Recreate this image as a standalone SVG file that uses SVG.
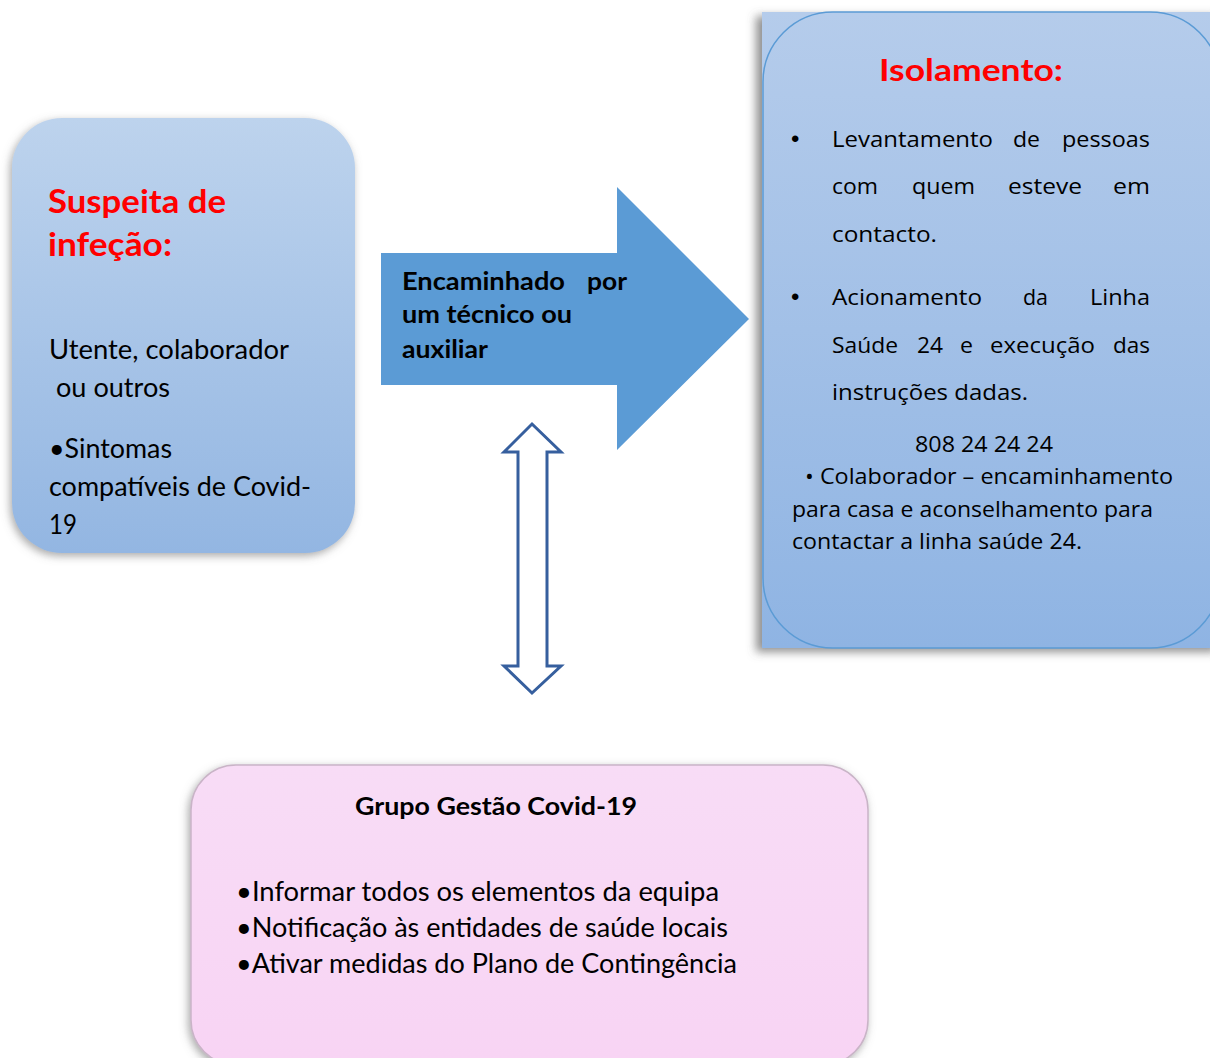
<svg xmlns="http://www.w3.org/2000/svg" width="1210" height="1058" viewBox="0 0 1210 1058">
<defs>
<linearGradient id="gBlue" x1="0" y1="0" x2="0" y2="1">
<stop offset="0" stop-color="#bdd3ed"/>
<stop offset="1" stop-color="#93b6e2"/>
</linearGradient>
<linearGradient id="gBlue2" x1="0" y1="0" x2="0" y2="1">
<stop offset="0" stop-color="#b5cceb"/>
<stop offset="1" stop-color="#8fb4e3"/>
</linearGradient>
<linearGradient id="gPink" x1="0" y1="0" x2="0" y2="1">
<stop offset="0" stop-color="#f8dcf6"/>
<stop offset="1" stop-color="#f8d4f4"/>
</linearGradient>
<filter id="shadow" x="-10%" y="-10%" width="120%" height="120%">
<feGaussianBlur in="SourceAlpha" stdDeviation="4"/>
<feOffset dx="-2" dy="3" result="b"/>
<feFlood flood-color="#707070" flood-opacity="0.6"/>
<feComposite in2="b" operator="in"/>
<feMerge><feMergeNode/><feMergeNode in="SourceGraphic"/></feMerge>
</filter>
<filter id="shadowL" x="-10%" y="-10%" width="120%" height="120%">
<feGaussianBlur in="SourceAlpha" stdDeviation="5"/>
<feOffset dx="-6" dy="4" result="b"/>
<feFlood flood-color="#606060" flood-opacity="0.7"/>
<feComposite in2="b" operator="in"/>
<feMerge><feMergeNode/><feMergeNode in="SourceGraphic"/></feMerge>
</filter>
</defs>
<style>
.title{font-family:Lato,"Liberation Sans",sans-serif;font-weight:bold;fill:#ff0000;}
.lb{font-family:Lato,"Liberation Sans",sans-serif;font-size:26px;fill:#000;}
.arr{font-family:Lato,"Liberation Sans",sans-serif;font-weight:bold;font-size:24px;fill:#000;}
.rb{font-family:"Open Sans","Noto Sans",sans-serif;font-size:21px;fill:#000;}
.dot{font-family:"Liberation Sans",sans-serif;font-size:24px;fill:#000;}
.rl{font-family:"Open Sans","Noto Sans",sans-serif;font-size:22px;fill:#000;}
.bb{font-family:Lato,"Liberation Sans",sans-serif;font-size:26px;fill:#000;}
.bt{font-family:Lato,"Liberation Sans",sans-serif;font-weight:bold;font-size:24px;fill:#000;}
</style>
<rect width="1210" height="1058" fill="#ffffff"/>

<g id="node-suspeita">
<rect x="12" y="118" width="343" height="435" rx="50" fill="url(#gBlue)" filter="url(#shadow)"/>
<text class="title" x="48" y="213" font-size="31.5" textLength="178" lengthAdjust="spacingAndGlyphs">Suspeita de</text>
<text class="title" x="48" y="256" font-size="31.5" textLength="124" lengthAdjust="spacingAndGlyphs">infeção:</text>
<text class="lb" x="49" y="359" textLength="240" lengthAdjust="spacingAndGlyphs">Utente, colaborador</text>
<text class="lb" x="56" y="397" textLength="114" lengthAdjust="spacingAndGlyphs">ou outros</text>
<text class="lb" x="49" y="458" textLength="123" lengthAdjust="spacingAndGlyphs">•Sintomas</text>
<text class="lb" x="49" y="496" textLength="262" lengthAdjust="spacingAndGlyphs">compatíveis de Covid-</text>
<text class="lb" x="49" y="534" textLength="28" lengthAdjust="spacingAndGlyphs">19</text>
</g>

<g id="node-encaminhado">
<polygon points="381,253 617,253 617,187 749,319 617,450 617,385 381,385" fill="#5b9bd5"/>
<text class="arr" x="402" y="290" textLength="163" lengthAdjust="spacingAndGlyphs">Encaminhado</text>
<text class="arr" x="587" y="290" textLength="40" lengthAdjust="spacingAndGlyphs">por</text>
<text class="arr" x="402" y="323" textLength="170" lengthAdjust="spacingAndGlyphs">um técnico ou</text>
<text class="arr" x="402" y="358" textLength="86" lengthAdjust="spacingAndGlyphs">auxiliar</text>
</g>

<g id="node-isolamento">
<rect x="762" y="12" width="460" height="636" fill="url(#gBlue2)" filter="url(#shadowL)"/>
<rect x="763" y="12" width="457" height="636" rx="70" fill="none" stroke="#5b9bd5" stroke-width="1.5"/>
<text class="title" x="879" y="81" font-size="31" textLength="184" lengthAdjust="spacingAndGlyphs">Isolamento:</text>
<text class="dot" x="791" y="147">•</text>
<text class="rb" x="832" y="147" textLength="161" lengthAdjust="spacingAndGlyphs">Levantamento</text>
<text class="rb" x="1013" y="147" textLength="27" lengthAdjust="spacingAndGlyphs">de</text>
<text class="rb" x="1062" y="147" textLength="88" lengthAdjust="spacingAndGlyphs">pessoas</text>
<text class="rb" x="832" y="194" textLength="46" lengthAdjust="spacingAndGlyphs">com</text>
<text class="rb" x="912" y="194" textLength="63" lengthAdjust="spacingAndGlyphs">quem</text>
<text class="rb" x="1008" y="194" textLength="74" lengthAdjust="spacingAndGlyphs">esteve</text>
<text class="rb" x="1113" y="194" textLength="37" lengthAdjust="spacingAndGlyphs">em</text>
<text class="rb" x="832" y="242" textLength="105" lengthAdjust="spacingAndGlyphs">contacto.</text>
<text class="dot" x="791" y="305">•</text>
<text class="rb" x="832" y="305" textLength="150" lengthAdjust="spacingAndGlyphs">Acionamento</text>
<text class="rb" x="1023" y="305" textLength="25" lengthAdjust="spacingAndGlyphs">da</text>
<text class="rb" x="1090" y="305" textLength="60" lengthAdjust="spacingAndGlyphs">Linha</text>
<text class="rb" x="832" y="353" textLength="66" lengthAdjust="spacingAndGlyphs">Saúde</text>
<text class="rb" x="917" y="353" textLength="26" lengthAdjust="spacingAndGlyphs">24</text>
<text class="rb" x="960" y="353" textLength="13" lengthAdjust="spacingAndGlyphs">e</text>
<text class="rb" x="990" y="353" textLength="105" lengthAdjust="spacingAndGlyphs">execução</text>
<text class="rb" x="1113" y="353" textLength="37" lengthAdjust="spacingAndGlyphs">das</text>
<text class="rb" x="832" y="400" textLength="196" lengthAdjust="spacingAndGlyphs">instruções dadas.</text>
<text class="rl" x="915" y="452" textLength="138" lengthAdjust="spacingAndGlyphs">808 24 24 24</text>
<text class="rl" x="805" y="484" textLength="368" lengthAdjust="spacingAndGlyphs">• Colaborador – encaminhamento</text>
<text class="rl" x="792" y="517" textLength="361" lengthAdjust="spacingAndGlyphs">para casa e aconselhamento para</text>
<text class="rl" x="792" y="549" textLength="290" lengthAdjust="spacingAndGlyphs">contactar a linha saúde 24.</text>
</g>

<g id="node-grupo">
<rect x="191" y="765" width="677" height="300" rx="45" fill="url(#gPink)" stroke="#c9b4c7" stroke-width="1.5" filter="url(#shadow)"/>
<text class="bt" x="355" y="815" textLength="282" lengthAdjust="spacingAndGlyphs">Grupo Gestão Covid-19</text>
<text class="bb" x="236" y="901" textLength="483" lengthAdjust="spacingAndGlyphs">•Informar todos os elementos da equipa</text>
<text class="bb" x="236" y="937" textLength="492" lengthAdjust="spacingAndGlyphs">•Notificação às entidades de saúde locais</text>
<text class="bb" x="236" y="973" textLength="501" lengthAdjust="spacingAndGlyphs">•Ativar medidas do Plano de Contingência</text>
</g>

<g id="connectors">
<polygon points="532,424 561,452 547,452 547,666 561,666 532,693 504,666 518,666 518,452 504,452" fill="#ffffff" stroke="#365f9e" stroke-width="3" stroke-linejoin="miter"/>
</g>
</svg>
